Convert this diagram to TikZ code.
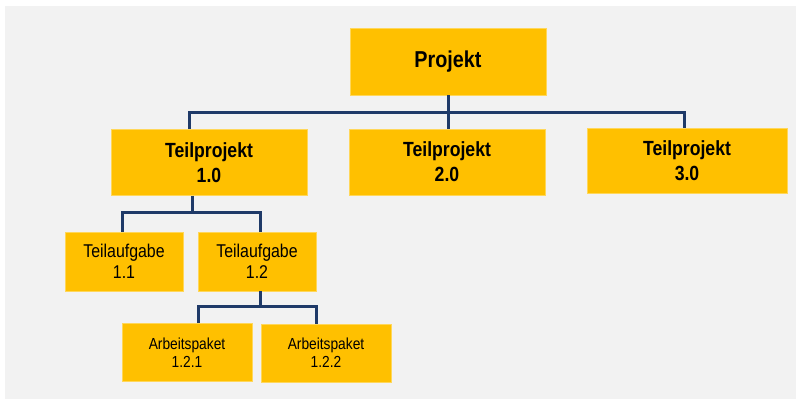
\documentclass[tikz,border=0pt]{standalone}
\usepackage{fontspec}
\setmainfont{Liberation Sans}[FakeStretch=0.86]
\usepackage{tikz}
\usetikzlibrary{positioning,calc}
\definecolor{pmgold}{HTML}{FFC000}
\definecolor{pmrim}{HTML}{FFD75A}
\definecolor{pmnavy}{HTML}{1F3A68}
\definecolor{pmback}{HTML}{F2F2F2}
\tikzset{
  wbs/.style={fill=pmgold, draw=pmrim, line width=0.6pt, align=center, inner sep=0pt},
  top/.style={wbs, minimum width=196pt, minimum height=67pt, font=\fontsize{23}{26}\selectfont\bfseries},
  sub/.style={wbs, minimum width=196pt, minimum height=66pt, font=\fontsize{20.5}{25}\selectfont\bfseries},
  task/.style={wbs, minimum width=118pt, minimum height=59pt, font=\fontsize{18.5}{21}\selectfont},
  pkg/.style={wbs, minimum width=130pt, minimum height=58pt, font=\fontsize{16}{18}\selectfont},
  link/.style={draw=pmnavy, line width=3pt}
}

\begin{document}
\begin{tikzpicture}[x=1pt,y=-1pt]
  \useasboundingbox (0,0) rectangle (796,399);
  \fill[pmback] (5,6) rectangle (796,399);

  \node[top] (proj) at (448,61.5) {Projekt};
  \node[sub] (tp1) at (209,162.5) {Teilprojekt\\1.0};
  \node[sub] (tp2) at (447,162) {Teilprojekt\\2.0};
  \node[sub, minimum width=200pt, minimum height=65pt] (tp3) at (687,160.5) {Teilprojekt\\3.0};
  \node[task] (ta1) at (124,261.5) {Teilaufgabe\\1.1};
  \node[task] (ta2) at (257,261.5) {Teilaufgabe\\1.2};
  \node[pkg] (ap1) at (187,352.5) {Arbeitspaket\\1.2.1};
  \node[pkg] (ap2) at (326,353) {Arbeitspaket\\1.2.2};

  \draw[link] (proj.south) -- (proj.south |- tp2.north);
  \draw[link] ([xshift=-20pt]tp1.north) -- ++(0,-17) -| ([xshift=-3pt]tp3.north);

  \draw[link] ([xshift=-17pt]tp1.south) -- ++(0,17);
  \draw[link] ([xshift=-2pt]ta1.north) -- ++(0,-19) -| ([xshift=3pt]ta2.north);

  \draw[link] ([xshift=3pt]ta2.south) -- ++(0,15);
  \draw[link] ([xshift=11pt]ap1.north) -- ++(0,-17) -| ([xshift=-10pt]ap2.north);
\end{tikzpicture}
\end{document}
